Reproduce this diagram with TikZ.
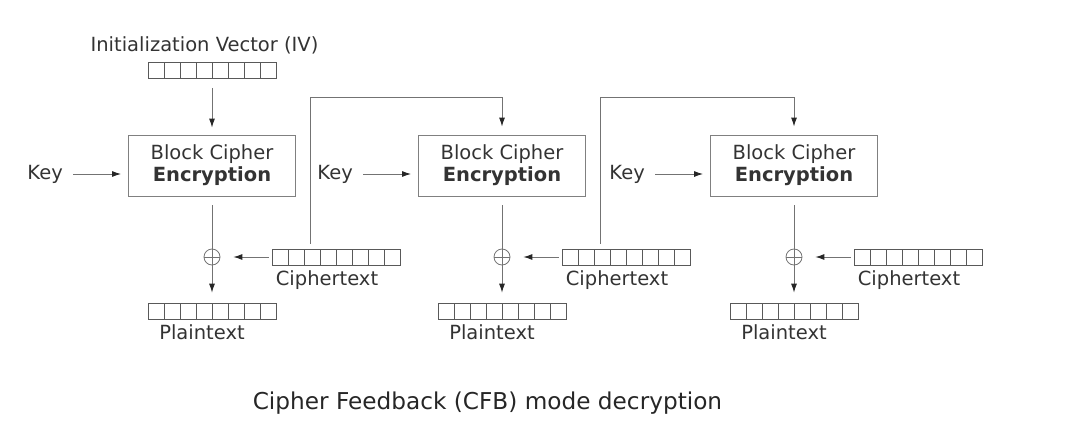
\documentclass[tikz,border=0pt]{standalone}
\usepackage{fontspec}
\setmainfont{DejaVu Sans}
\usepackage{xcolor}
\usetikzlibrary{arrows.meta,positioning,calc}

\begin{document}
\begin{tikzpicture}[x=1pt, y=-1pt, >={Latex[length=9pt,width=6pt,color=black!85]},
  wire/.style={draw=black!55, line width=0.9pt},
  lbl/.style={inner sep=0pt, text=black!80, font=\fontsize{19.5}{22}\selectfont},
  cipherbox/.style={draw=black!50, line width=0.9pt, minimum width=167pt, minimum height=61pt, inner sep=0pt, align=center, text=black!80, font=\fontsize{19.5}{22}\selectfont},
  bytes/.style={draw=black!65, line width=0.8pt, minimum width=128pt, minimum height=16pt, inner sep=0pt,
    path picture={\foreach \k in {1,...,7} \draw[black!65, line width=0.8pt] ($(path picture bounding box.south west)+(\k*16,0)$) -- ($(path picture bounding box.north west)+(\k*16,0)$);}},
  xor/.style={circle, draw=black!55, line width=0.8pt, minimum size=16pt, inner sep=0pt,
    path picture={\draw[black!55, line width=0.8pt] (path picture bounding box.west) -- (path picture bounding box.east) (path picture bounding box.north) -- (path picture bounding box.south);}}]
\useasboundingbox (0,0) rectangle (1067,439);

\node[lbl] (ivl) at (204.5,45) {Initialization Vector (IV)};
\node[bytes] (iv) at (212,70.5) {};

\foreach \c/\x in {1/212,2/502,3/794}{
  \node[cipherbox] (box\c) at (\x,165.5) {Block Cipher\\\textbf{Encryption}};
  \node[lbl, anchor=east] (key\c) at (\x-149,174) {Key};
  \node[xor] (xor\c) at (\x,257) {};
  \node[bytes] (ct\c) at (\x+124,257) {};
  \node[bytes] (pt\c) at (\x,311) {};
  \node[lbl] (ctl\c) at (\x+115,280) {Ciphertext};
  \node[lbl] (ptl\c) at (\x-10,332) {Plaintext};
  \coordinate (fb\c) at ($(ct\c.north west)+(39,0)$);
  \coordinate (top\c) at (\x,97);

  \draw[wire,->,shorten <=10pt,shorten >=7pt] (key\c.east) -- (key\c.east -| box\c.west);
  \draw[wire,->,shorten <=9pt,shorten >=10pt] (box\c) -- (pt\c);
  \draw[wire,->,shorten <=3pt,shorten >=13pt] (ct\c) -- (xor\c);
}

\draw[wire,->,shorten <=9pt,shorten >=7pt] (iv) -- (box1);
\draw[wire,->,shorten <=5pt,shorten >=8pt] (fb1) |- (top2) -- (box2);
\draw[wire,->,shorten <=5pt,shorten >=8pt] (fb2) |- (top3) -- (box3);

\node[text=black!85, font=\fontsize{23.2}{27}\selectfont] (title) at (487.5,403) {Cipher Feedback (CFB) mode decryption};
\end{tikzpicture}
\end{document}
